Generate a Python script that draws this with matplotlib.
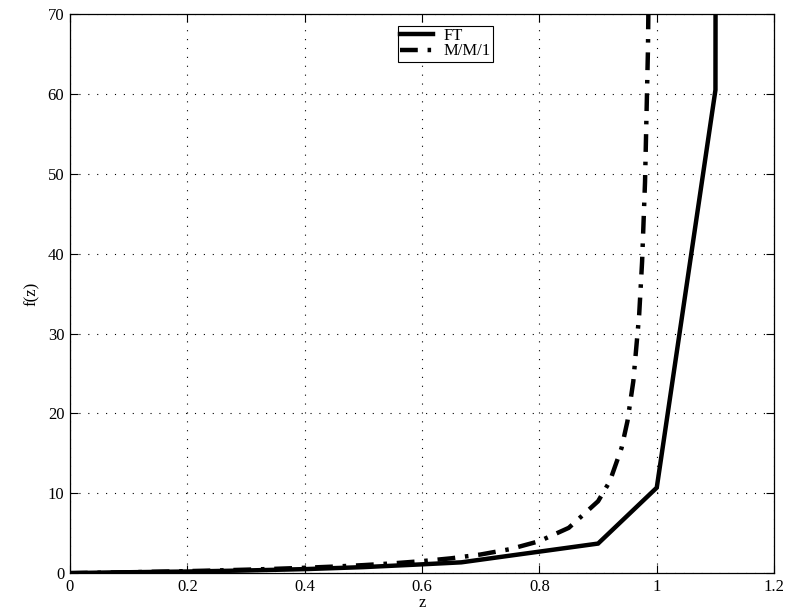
import matplotlib
matplotlib.use("Agg")
import matplotlib.pyplot as plt

# M/M/1 curve
mm1_z = [0.0, 0.05, 0.1, 0.15, 0.2, 0.25, 0.3, 0.35, 0.4, 0.45, 0.5, 0.55, 0.6, 0.65,
         0.7, 0.75, 0.8, 0.85, 0.9, 0.92, 0.94, 0.95, 0.96, 0.97, 0.975, 0.98, 0.985, 0.99]
mm1_f = [0.0, 0.053, 0.111, 0.176, 0.25, 0.333, 0.429, 0.538, 0.667, 0.818, 1.0, 1.222, 1.5, 1.857,
         2.333, 3.0, 4.0, 5.667, 9.0, 11.5, 15.67, 19.0, 24.0, 32.33, 39.0, 49.0, 65.67, 99.0]

# FT curve
ft_z = [0.0, 0.067, 0.2, 0.3, 0.4, 0.5, 0.6, 0.667, 0.9, 1.0, 1.1, 1.102]
ft_f = [0.0, 0.08, 0.2, 0.33, 0.5, 0.75, 1.1, 1.35, 3.7, 10.7, 60.5, 200.0]

xticks = [0, 0.2, 0.4, 0.6, 0.8, 1.0, 1.2]
xticklabels = ["0", "0.2", "0.4", "0.6", "0.8", "1", "1.2"]
yticks = [0, 10, 20, 30, 40, 50, 60, 70]

plt.rcParams['font.family'] = ['Liberation Serif', 'DejaVu Serif']

fig = plt.figure(figsize=(7.94, 6.11), dpi=100)
ax = fig.add_axes([0.088, 0.062, 0.887, 0.915])

ax.plot(ft_z, ft_f, color='black', linewidth=3.2, linestyle='-', label='FT',
        solid_joinstyle='miter')
ax.plot(mm1_z, mm1_f, color='black', linewidth=3.2, linestyle=(0, (4, 2.2, 0.8, 2.2)),
        label='M/M/1')

ax.set_xlim(0, 1.2)
ax.set_ylim(0, 70)
ax.set_xticks(xticks)
ax.set_xticklabels(xticklabels)
ax.set_yticks(yticks)

ax.grid(True, color='black', linestyle=(0, (1, 7)), linewidth=0.8)
ax.tick_params(direction='in', length=6, width=0.8, top=True, right=True,
               labelsize=12, pad=4, colors='black')
for s in ax.spines.values():
    s.set_linewidth(0.9)
    s.set_color('black')

ax.set_xlabel('z', fontsize=12, labelpad=0)
ax.set_ylabel('f(z)', fontsize=12, labelpad=6)

leg = ax.legend(loc='upper center', bbox_to_anchor=(0.533, 0.988), fontsize=12,
                frameon=True, fancybox=False, shadow=False, framealpha=1,
                edgecolor='black', handlelength=2.0, borderpad=0.15,
                labelspacing=-0.05, handletextpad=0.6, borderaxespad=0.3)
leg.get_frame().set_linewidth(0.8)

fig.savefig('out.png', dpi=100)
